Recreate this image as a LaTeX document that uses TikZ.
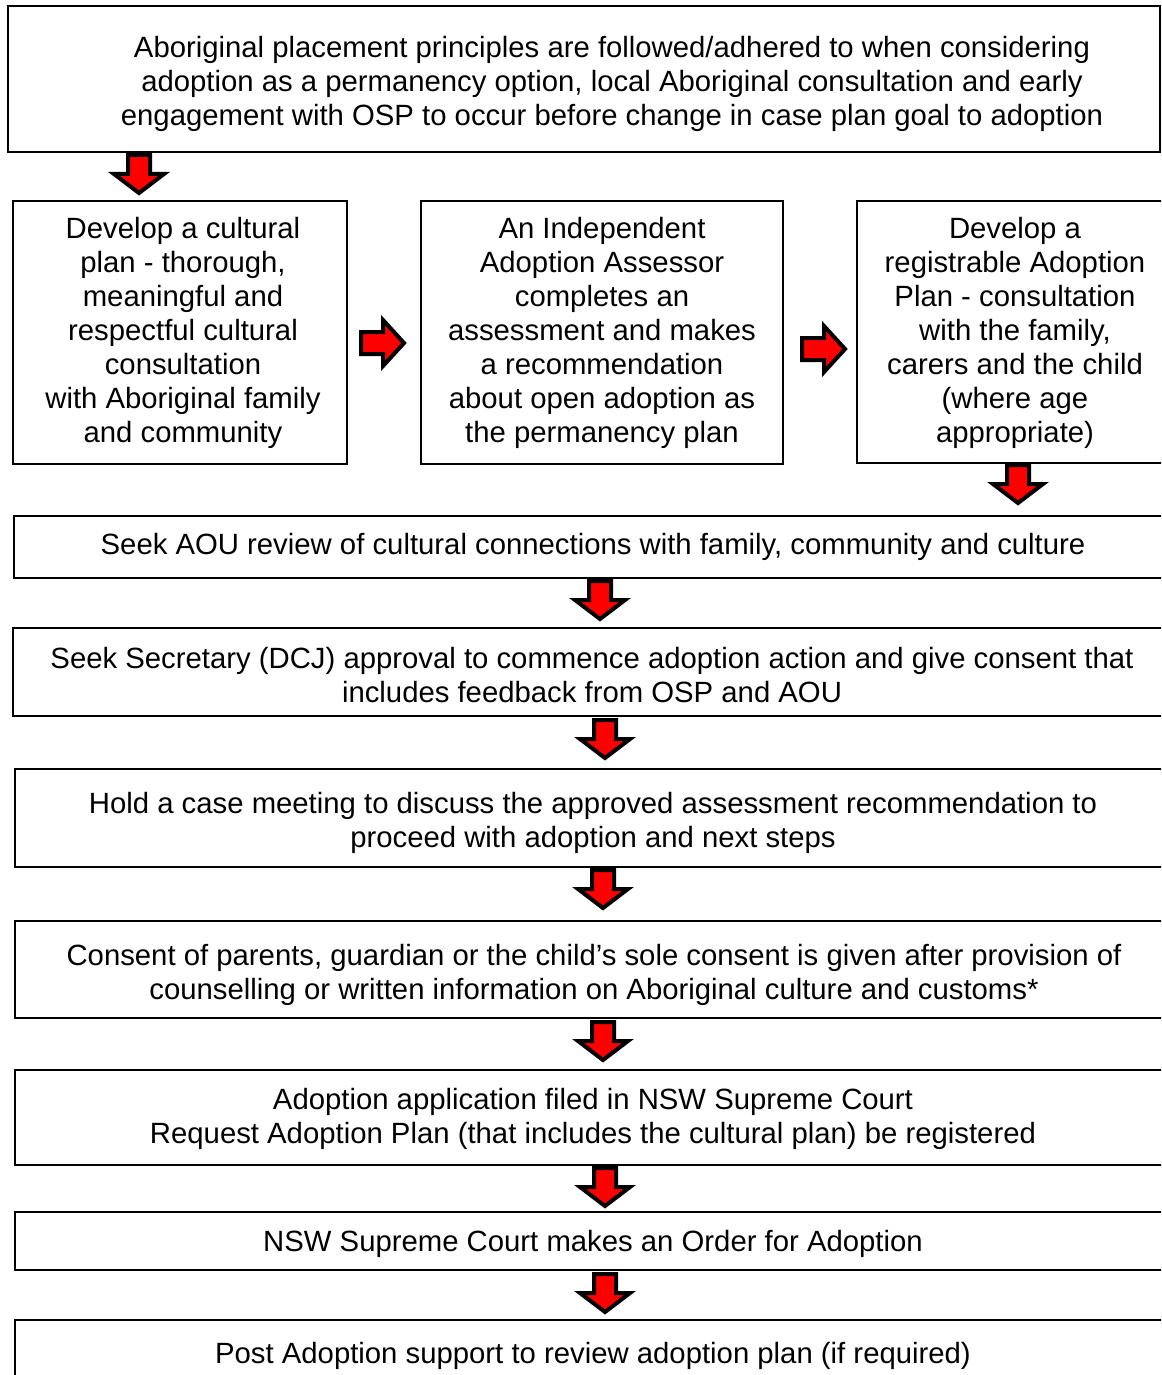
\documentclass[tikz,border=0pt]{standalone}
\usepackage{fontspec}
\setmainfont{Liberation Sans}
\begin{document}
\begin{tikzpicture}[x=1pt,y=-1pt,
  box/.style={draw=black,line width=2pt},
  txt/.style={align=center,inner sep=0pt,font=\fontsize{29.3}{34}\selectfont,yshift=-3.5pt},
  blockarrow/.style={draw=black,fill=red,line width=4pt,line join=miter},
  downarr/.pic={\draw[blockarrow] (-11,2)--(-11,21)--(-25,21)--(0,40)--(25,21)--(11,21)--(11,2)--cycle;},
  rightarr/.pic={\draw[blockarrow] (2,-11)--(24,-11)--(24,-23)--(45,0)--(24,23)--(24,11)--(2,11)--cycle;}
]
\useasboundingbox (0,0) rectangle (1161,1375);
\clip (0,0) rectangle (1161,1375);
\fill[white] (0,0) rectangle (1161,1375);

% boxes
\draw[box] (8,6) rectangle (1160,152) coordinate (top);
\draw[box] (13,201) rectangle (347,464);
\draw[box] (421,201) rectangle (783,464);
\draw[box] (857,201) rectangle (1173,463);
\draw[box] (14,516) rectangle (1172,578);
\draw[box] (13,628) rectangle (1172,716);
\draw[box] (15,769) rectangle (1172,867);
\draw[box] (15,921) rectangle (1172,1018);
\draw[box] (15,1070) rectangle (1172,1165);
\draw[box] (15,1212) rectangle (1172,1270);
\draw[box] (15,1320) rectangle (1172,1400);

% texts
\node[txt] (t0) at (612,80) {Aboriginal placement principles are followed/adhered to when considering\\adoption as a permanency option, local Aboriginal consultation and early\\engagement with OSP to occur before change in case plan goal to adoption};
\node[txt] (tA) at (183,329) {Develop a cultural\\plan - thorough,\\meaningful and\\respectful cultural\\consultation\\with Aboriginal family\\and community};
\node[txt] (tB) at (602,329) {An Independent\\Adoption Assessor\\completes an\\assessment and makes\\a recommendation\\about open adoption as\\the permanency plan};
\node[txt] (tC) at (1015,329) {Develop a\\registrable Adoption\\Plan - consultation\\with the family,\\carers and the child\\(where age\\appropriate)};
\node[txt] (t4) at (593,543) {Seek AOU review of cultural connections with family, community and culture};
\node[txt] (t5) at (592,672) {Seek Secretary (DCJ) approval to commence adoption action and give consent that\\includes feedback from OSP and AOU};
\node[txt] (t6) at (593,819) {Hold a case meeting to discuss the approved assessment recommendation to\\proceed with adoption and next steps};
\node[txt] (t7) at (594,971) {Consent of parents, guardian or the child’s sole consent is given after provision of\\counselling or written information on Aboriginal culture and customs*};
\node[txt] (t8) at (593,1115) {Adoption application filed in NSW Supreme Court\\Request Adoption Plan (that includes the cultural plan) be registered};
\node[txt] (t9) at (593,1240) {NSW Supreme Court makes an Order for Adoption};
\node[txt] (t10) at (593,1352) {Post Adoption support to review adoption plan (if required)};

% block arrows
\pic (a1) at (139,153) {downarr};
\pic (aR1) at (359,343) {rightarr};
\pic (aR2) at (800,349) {rightarr};
\pic (aC) at (1018,463) {downarr};
\pic (a45) at (600,579) {downarr};
\pic (a56) at (605,718) {downarr};
\pic (a67) at (603,868) {downarr};
\pic (a78) at (603,1020) {downarr};
\pic (a89) at (605,1166) {downarr};
\pic (a910) at (605,1272) {downarr};
\end{tikzpicture}
\end{document}
